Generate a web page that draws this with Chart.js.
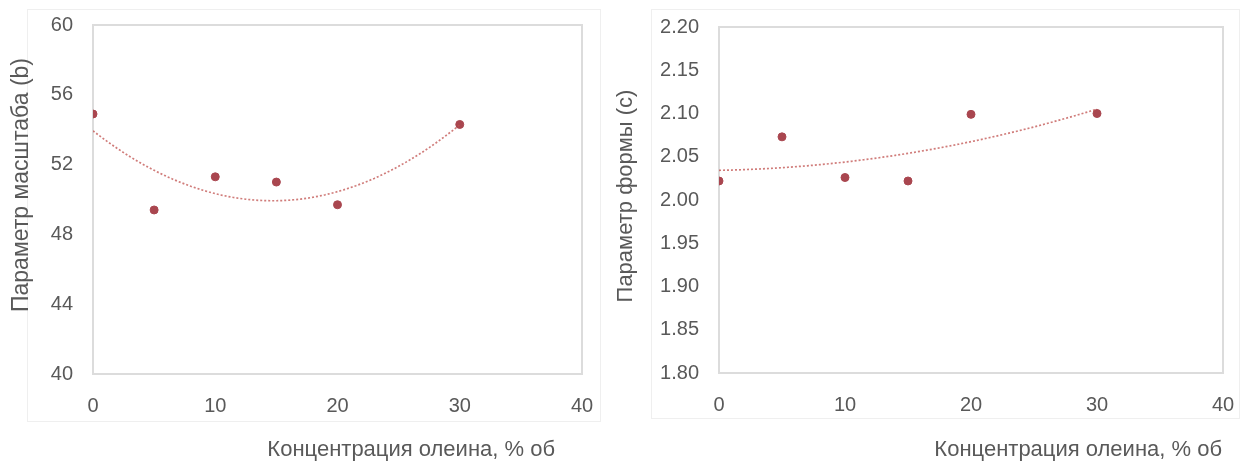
<!DOCTYPE html>
<html lang="ru">
<head>
<meta charset="utf-8">
<title>Параметры распределения в зависимости от концентрации олеина</title>
<script src="https://cdn.jsdelivr.net/npm/chart.js@4.4.1/dist/chart.umd.min.js"></script>
<style>
  html, body { margin: 0; padding: 0; background: #ffffff; }
  body { width: 1240px; height: 463px; position: relative; overflow: hidden; }
  .frame { position: absolute; border: 1px solid #efefef; box-sizing: border-box; }
  canvas { position: absolute; top: 0; }
</style>
</head>
<body>
<div class="frame" style="left:27px; top:9px; width:574px; height:413px;"></div>
<div class="frame" style="left:651px; top:9px; width:589px; height:410px;"></div>
<canvas id="chartB" width="620" height="463" style="left:0px;"></canvas>
<canvas id="chartC" width="640" height="463" style="left:600px;"></canvas>
<script>
// Концентрация олеина, % об
const concentration = [0, 5, 10, 15, 20, 30];
// Параметр масштаба (b)
const scaleParamB = [54.9, 49.4, 51.3, 51.0, 49.7, 54.3];
// Параметр формы (c)
const shapeParamC = [2.022, 2.073, 2.026, 2.022, 2.099, 2.100];

const xAxisTitle = 'Концентрация олеина, % об';
const yAxisTitleB = 'Параметр масштаба (b)';
const yAxisTitleC = 'Параметр формы (с)';

const FONT = '"Liberation Sans", Arial, sans-serif';
const TEXT = '#595959';
const MARKER = '#a9464f';
const TREND = 'rgba(192, 80, 77, 0.75)';

// Least-squares polynomial of order 2 (same as a spreadsheet polynomial trendline)
function quadFit(xs, ys) {
  const S = k => xs.reduce((s, x) => s + Math.pow(x, k), 0);
  const T = k => xs.reduce((s, x, i) => s + Math.pow(x, k) * ys[i], 0);
  const M = [
    [S(0), S(1), S(2), T(0)],
    [S(1), S(2), S(3), T(1)],
    [S(2), S(3), S(4), T(2)]
  ];
  for (let c = 0; c < 3; c++) {
    for (let r = c + 1; r < 3; r++) {
      const f = M[r][c] / M[c][c];
      for (let k = c; k < 4; k++) M[r][k] -= f * M[c][k];
    }
  }
  const coef = [0, 0, 0];
  for (let r = 2; r >= 0; r--) {
    let s = M[r][3];
    for (let k = r + 1; k < 3; k++) s -= M[r][k] * coef[k];
    coef[r] = s / M[r][r];
  }
  return x => coef[0] + coef[1] * x + coef[2] * x * x;
}

function trendPoints(xs, ys) {
  const f = quadFit(xs, ys);
  const lo = Math.min(...xs), hi = Math.max(...xs);
  const pts = [];
  for (let i = 0; i <= 60; i++) {
    const x = lo + (hi - lo) * i / 60;
    pts.push({ x, y: f(x) });
  }
  return pts;
}

// Plot-area border and axis captions
const plotDecor = {
  id: 'plotDecor',
  beforeDatasetsDraw(chart) {
    const { ctx, chartArea: a } = chart;
    ctx.save();
    ctx.strokeStyle = '#dcdcdc';
    ctx.lineWidth = 2;
    ctx.strokeRect(a.left, a.top, a.right - a.left, a.bottom - a.top);
    ctx.restore();
  },
  afterDraw(chart, args, opts) {
    const { ctx, chartArea: a } = chart;
    ctx.save();
    ctx.fillStyle = TEXT;
    ctx.textBaseline = 'middle';
    ctx.textAlign = 'right';
    ctx.font = opts.xSize + 'px ' + FONT;
    ctx.fillText(opts.xText, a.right - opts.xInset, a.bottom + opts.xDrop);
    ctx.translate(opts.yLeft, a.top + opts.yCenter);
    ctx.rotate(-Math.PI / 2);
    ctx.textAlign = 'center';
    ctx.font = opts.ySize + 'px ' + FONT;
    ctx.fillText(opts.yText, 0, 0);
    ctx.restore();
  }
};

// Invisible tick marks keep the labels 20px away from the plot edge
const hiddenTicks = {
  display: true, drawOnChartArea: false, drawTicks: true,
  tickLength: 20, color: 'rgba(0,0,0,0)'
};

function makeChart(id, ys, yMin, yMax, yStep, decimals, geo, captions) {
  const xs = concentration;
  return new Chart(document.getElementById(id), {
    type: 'scatter',
    data: {
      datasets: [
        {
          label: 'trend',
          type: 'line',
          data: trendPoints(xs, ys),
          borderColor: TREND,
          borderWidth: 1.7,
          borderDash: [2, 2],
          pointRadius: 0,
          fill: false,
          tension: 0
        },
        {
          label: 'data',
          data: xs.map((x, i) => ({ x, y: ys[i] })),
          backgroundColor: MARKER,
          borderColor: MARKER,
          pointRadius: 4,
          pointHoverRadius: 4
        }
      ]
    },
    options: {
      responsive: false,
      animation: false,
      events: [],
      layout: { padding: geo.padding },
      plugins: {
        legend: { display: false },
        tooltip: { enabled: false },
        plotDecor: captions
      },
      scales: {
        x: {
          type: 'linear',
          min: 0, max: 40,
          ticks: { stepSize: 10, padding: 0, color: TEXT, font: { family: FONT, size: 20 } },
          grid: hiddenTicks,
          border: { display: false },
          afterFit(s) { s.height = geo.xHeight; }
        },
        y: {
          type: 'linear',
          min: yMin, max: yMax,
          ticks: {
            stepSize: yStep, padding: 0, color: TEXT, font: { family: FONT, size: 20 },
            callback: v => v.toFixed(decimals)
          },
          grid: hiddenTicks,
          border: { display: false },
          afterFit(s) { s.width = geo.yWidth; }
        }
      }
    },
    plugins: [plotDecor]
  });
}

makeChart('chartB', scaleParamB, 40, 60, 4, 0,
  { padding: { top: 25, left: 0, right: 38, bottom: 0 }, yWidth: 93, xHeight: 89 },
  { xText: xAxisTitle, yText: yAxisTitleB, xSize: 22, ySize: 23, xInset: 27, xDrop: 76, yLeft: 22, yCenter: 160 });

makeChart('chartC', shapeParamC, 1.8, 2.2, 0.05, 2,
  { padding: { top: 27, left: 0, right: 17, bottom: 0 }, yWidth: 119, xHeight: 90 },
  { xText: xAxisTitle, yText: yAxisTitleC, xSize: 22, ySize: 22, xInset: 1, xDrop: 77, yLeft: 26, yCenter: 169 });
</script>
</body>
</html>
